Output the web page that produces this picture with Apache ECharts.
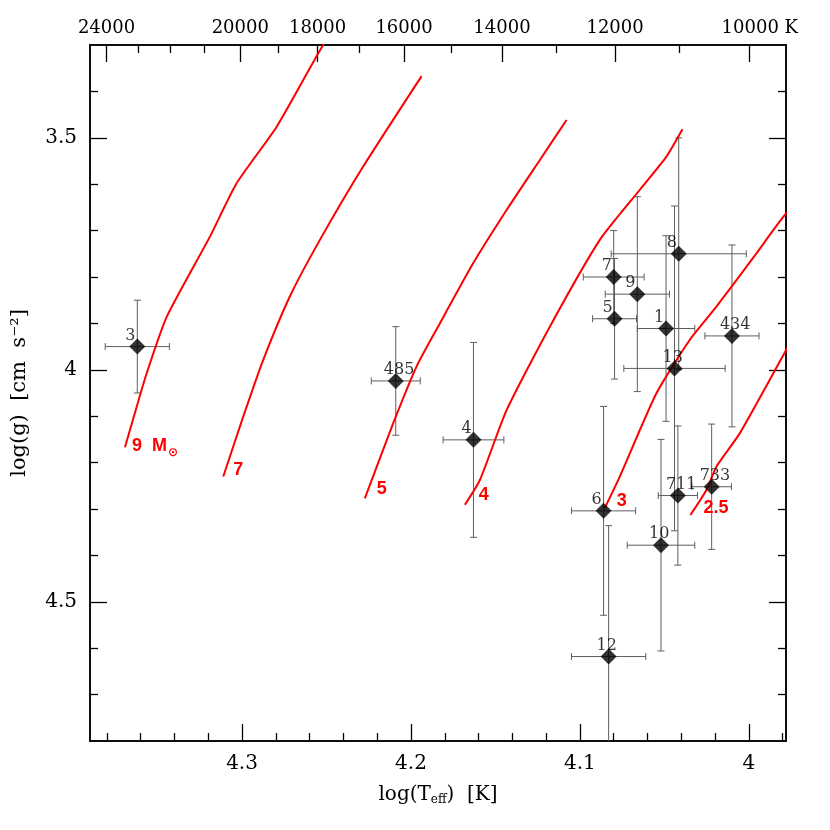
<!DOCTYPE html>
<html>
<head>
<meta charset="utf-8">
<script src="https://cdn.jsdelivr.net/npm/echarts@6/dist/echarts.min.js"></script>
<style>
html,body{margin:0;padding:0;background:#fff;}
#chart{width:830px;height:830px;}
</style>
</head>
<body>
<div id="chart"></div>
<script>
// ---- star measurements ----
const starNames = ['3','485','4','8','7','9','5','1','434','13','6','711','733','10','12'];
const starLogT  = [4.362, 4.209, 4.163, 4.0415, 4.080, 4.066, 4.0795, 4.049, 4.010, 4.044, 4.086, 4.042, 4.022, 4.052, 4.083];
const starLogG  = [3.950, 4.024, 4.151, 3.750, 3.800, 3.837, 3.890, 3.911, 3.927, 3.997, 4.304, 4.271, 4.252, 4.378, 4.618];
const starErrT  = [0.019, 0.0145, 0.018, 0.040, 0.018, 0.019, 0.013, 0.017, 0.016, 0.030, 0.019, 0.0116, 0.0117, 0.020, 0.022];
const starErrG  = [0.10, 0.117, 0.21, 0.25, 0.10, 0.21, 0.13, 0.20, 0.196, 0.35, 0.225, 0.15, 0.135, 0.228, 0.282];

// ---- evolutionary tracks (log Teff, log g) ----
const track9T  = [4.3693, 4.3624, 4.3565, 4.3446, 4.3190, 4.3032, 4.2795, 4.2520, 4.2450];
const track9G  = [4.167, 4.080, 4.008, 3.886, 3.713, 3.598, 3.476, 3.300, 3.270];
const track7T  = [4.3111, 4.2993, 4.2875, 4.2717, 4.2539, 4.2283, 4.1937];
const track7G  = [4.230, 4.101, 3.979, 3.842, 3.720, 3.562, 3.367];
const track5T  = [4.2273, 4.2105, 4.1967, 4.1829, 4.1632, 4.1434, 4.1237, 4.1079];
const track5G  = [4.277, 4.115, 3.993, 3.900, 3.7705, 3.6556, 3.5478, 3.4616];
const track4T  = [4.1681, 4.1592, 4.1434, 4.1178, 4.0882, 4.0646, 4.0488, 4.0393];
const track4G  = [4.291, 4.2375, 4.087, 3.907, 3.720, 3.6125, 3.5407, 3.4817];
const track3T  = [4.0853, 4.0764, 4.0547, 4.0350, 4.0192, 3.9955, 3.9778, 3.9700];
const track3G  = [4.2985, 4.2304, 4.0507, 3.9358, 3.864, 3.749, 3.6627, 3.646];
const track25T = [4.0346, 4.0251, 4.0192, 4.0054, 3.9778, 3.9700];
const track25G = [4.313, 4.259, 4.209, 4.137, 3.957, 3.910];
const trackNames = ['9  M', '7', '5', '4', '3', '2.5'];

// ---- axis ticks ----
const xMajorTicks = [4.0, 4.1, 4.2, 4.3];
const xMinorTicks = [3.98, 4.02, 4.04, 4.06, 4.08, 4.12, 4.14, 4.16, 4.18, 4.22, 4.24, 4.26, 4.28, 4.32, 4.34, 4.36, 4.38];
const teffMajorTicks = [24000, 20000, 18000, 16000, 14000, 12000, 10000];
const teffMinorTicks = [23000, 22000, 21000, 19000, 17000, 15000, 13000, 11000];
const yMajorTicks = [3.5, 4.0, 4.5];
const yMinorTicks = [3.4, 3.6, 3.7, 3.8, 3.9, 4.1, 4.2, 4.3, 4.4, 4.6, 4.7];

const X_MIN = 3.978, X_MAX = 4.39, Y_MIN = 3.3, Y_MAX = 4.8;

const chart = echarts.init(document.getElementById('chart'), null, {renderer: 'canvas'});

const serif = 'DejaVu Serif';
const lineStyleAxis = {color: '#000', width: 1.5};

function xAxisDef(pos, ticks, len, showLabel, labelVals, formatter) {
  return {
    type: 'value', position: pos, inverse: true, min: X_MIN, max: X_MAX,
    axisLine: {show: true, onZero: false, lineStyle: lineStyleAxis},
    axisTick: {show: true, inside: true, length: len, customValues: ticks, lineStyle: {color: '#000', width: 1.3}},
    axisLabel: showLabel ? {show: true, customValues: labelVals, formatter: formatter,
      fontFamily: serif, fontSize: pos === 'top' ? 18 : 20, color: '#000', margin: pos === 'top' ? 8 : 13,
      rich: {pad: {width: 22}}} : {show: false},
    splitLine: {show: false}
  };
}
function yAxisDef(pos, ticks, len, showLabel, labelVals) {
  return {
    type: 'value', position: pos, inverse: true, min: Y_MIN, max: Y_MAX,
    axisLine: {show: true, onZero: false, lineStyle: lineStyleAxis},
    axisTick: {show: true, inside: true, length: len, customValues: ticks, lineStyle: {color: '#000', width: 1.3}},
    axisLabel: showLabel ? {show: true, customValues: labelVals, fontFamily: serif, fontSize: 20, color: '#000', margin: 13} : {show: false},
    splitLine: {show: false}
  };
}

const teffLog = teffMajorTicks.map(t => Math.log10(t));
const teffMinorLog = teffMinorTicks.map(t => Math.log10(t));

const xAxes = [
  Object.assign(xAxisDef('bottom', xMajorTicks, 17, true, xMajorTicks, v => String(v)), {
    name: '{a|log(T}{s|eff}{a|)  [K]}', nameLocation: 'middle', nameGap: 43,
    nameTextStyle: {rich: {a: {fontFamily: serif, fontSize: 20, color: '#000'}, s: {fontFamily: serif, fontSize: 12, color: '#000', padding: [10, 0, 0, 0]}}}
  }),
  xAxisDef('bottom', xMinorTicks, 8, false),
  xAxisDef('top', teffLog, 17, true, teffLog, v => {
    const t = Math.round(Math.pow(10, v));
    return t === 10000 ? '{pad|}' + t + ' K' : String(t);
  }),
  xAxisDef('top', teffMinorLog, 8, false)
];
const yAxes = [
  Object.assign(yAxisDef('left', yMajorTicks, 17, true, yMajorTicks), {
    name: 'log(g)  [cm  s⁻²]', nameLocation: 'middle', nameGap: 60,
    nameTextStyle: {fontFamily: serif, fontSize: 21, color: '#000'}
  }),
  yAxisDef('left', yMinorTicks, 8, false),
  yAxisDef('right', yMajorTicks, 17, false),
  yAxisDef('right', yMinorTicks, 8, false)
];

// error bars
const errData = starNames.map((n, i) => [starLogT[i], starLogG[i], starErrT[i], starErrG[i]]);
const errSeries = {
  type: 'custom', xAxisIndex: 0, yAxisIndex: 0, clip: true, z: 1,
  data: errData,
  renderItem: function (params, api) {
    const x = api.value(0), y = api.value(1), ex = api.value(2), ey = api.value(3);
    const c = api.coord([x, y]);
    const xl = api.coord([x + ex, y])[0];
    const xr = api.coord([x - ex, y])[0];
    const yTopV = Math.max(y - ey, Y_MIN), yBotV = Math.min(y + ey, Y_MAX);
    const yt = api.coord([x, yTopV])[1];
    const yb = api.coord([x, yBotV])[1];
    const cap = 3.5;
    const st = {stroke: '#5e5e5e', lineWidth: 1};
    const ch = [
      {type: 'line', shape: {x1: xl, y1: c[1], x2: xr, y2: c[1]}, style: st},
      {type: 'line', shape: {x1: xl, y1: c[1] - cap, x2: xl, y2: c[1] + cap}, style: st},
      {type: 'line', shape: {x1: xr, y1: c[1] - cap, x2: xr, y2: c[1] + cap}, style: st},
      {type: 'line', shape: {x1: c[0], y1: yt, x2: c[0], y2: yb}, style: st}
    ];
    if (y - ey >= Y_MIN) ch.push({type: 'line', shape: {x1: c[0] - cap, y1: yt, x2: c[0] + cap, y2: yt}, style: st});
    if (y + ey <= Y_MAX) ch.push({type: 'line', shape: {x1: c[0] - cap, y1: yb, x2: c[0] + cap, y2: yb}, style: st});
    return {type: 'group', children: ch};
  }
};

const starSeries = {
  type: 'scatter', xAxisIndex: 0, yAxisIndex: 0, z: 3,
  symbol: 'diamond', symbolSize: 16,
  itemStyle: {color: '#000'},
  data: starNames.map((n, i) => [starLogT[i], starLogG[i]]),
  label: {
    show: true, formatter: p => starNames[p.dataIndex],
    position: [-4, 5], align: 'left', verticalAlign: 'bottom',
    fontFamily: serif, fontSize: 16, color: '#000'
  }
};

const trackDefs = [
  [track9T, track9G, [7, 0]],
  [track7T, track7G, [10, -6]],
  [track5T, track5G, [12, -9]],
  [track4T, track4G, [14, -10]],
  [track3T, track3G, [12, -7]],
  [track25T, track25G, [13, -7]]
];
const trackSeries = trackDefs.map((d, k) => ({
  type: 'line', xAxisIndex: 0, yAxisIndex: 0, z: 2, clip: true,
  data: d[0].map((t, i) => [t, d[1][i]]),
  showSymbol: true, symbol: 'circle', symbolSize: 0, smooth: 0.2,
  lineStyle: {color: '#ff0000', width: 2},
  itemStyle: {color: '#ff0000'},
  emphasis: {disabled: true},
  label: {
    show: true, position: 'right', distance: 0, offset: d[2],
    formatter: p => p.dataIndex === 0 ? (k === 0 ? '{a|' + trackNames[k] + '}{b|⊙}' : trackNames[k]) : '',
    fontFamily: 'Liberation Sans', fontWeight: 'bold', fontSize: 18, color: '#ff0000',
    rich: {
      a: {fontFamily: 'Liberation Sans', fontWeight: 'bold', fontSize: 18, color: '#ff0000', lineHeight: 20, verticalAlign: 'top'},
      b: {fontFamily: 'DejaVu Sans', fontWeight: 'bold', fontSize: 12, color: '#ff0000', lineHeight: 12, padding: [10, 0, 0, 1], verticalAlign: 'top'}
    }
  }
}));

chart.setOption({
  animation: false,
  backgroundColor: '#fff',
  grid: {left: 90, right: 44, top: 45, bottom: 89, containLabel: false},
  xAxis: xAxes,
  yAxis: yAxes,
  series: [errSeries].concat(trackSeries, [starSeries])
});
</script>
</body>
</html>
